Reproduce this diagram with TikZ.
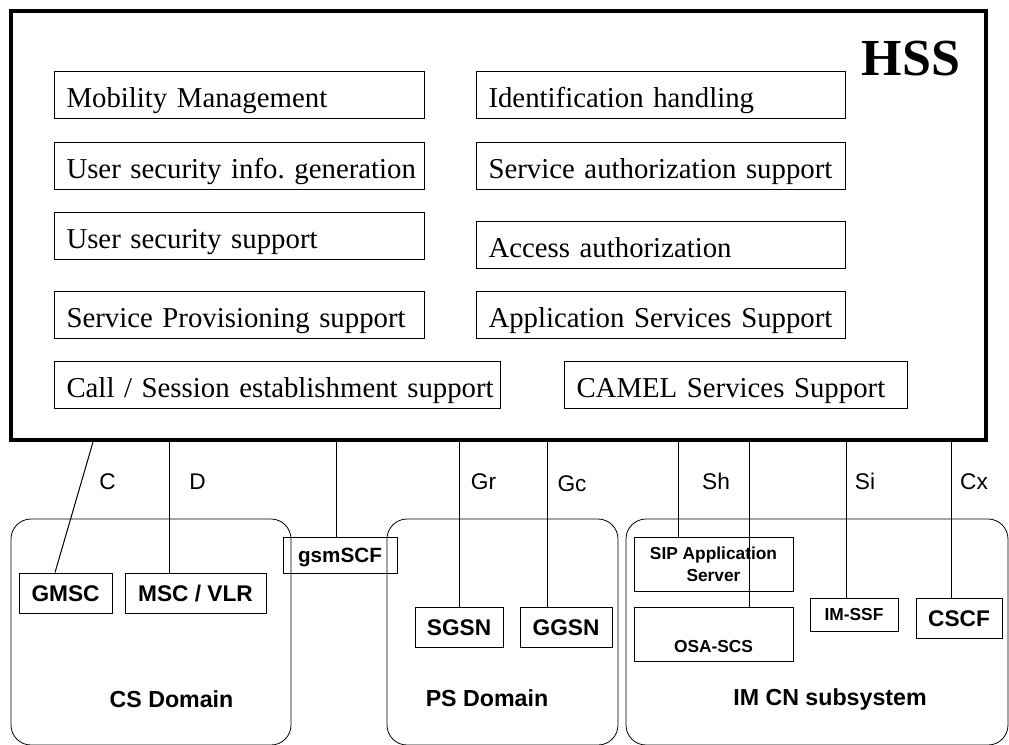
\documentclass[tikz,border=0pt]{standalone}
\usepackage{fontspec}
\newfontfamily\tnr{Liberation Serif}
\newfontfamily\ars{Liberation Sans}
\frenchspacing
\begin{document}
\begin{tikzpicture}[x=0.75pt,y=-0.75pt,
  fbox/.style={draw, line width=0.75pt, anchor=north west, inner xsep=9pt, inner ysep=0pt,
    minimum height=35.25pt, text height=18.75pt, text depth=0pt, align=left, text width=#1,
    font=\tnr\fontsize{21.6}{26}\selectfont},
  ebox/.style={draw, line width=0.75pt, inner sep=0pt,
    font=\ars\bfseries\fontsize{17}{20}\selectfont, text height=12.2pt, text depth=0pt},
  sbox/.style={draw, line width=0.75pt, inner sep=0pt, align=center,
    font=\ars\bfseries\fontsize{13}{16.5}\selectfont},
  domainbox/.style={draw, line width=0.6pt, rounded corners=15pt, inner sep=0pt},
  dlabel/.style={anchor=base, font=\ars\bfseries\fontsize{17.4}{20}\selectfont},
  iflabel/.style={anchor=base, font=\ars\fontsize{17}{20}\selectfont},
  conn/.style={line width=0.75pt}
]
\useasboundingbox (0,0) rectangle (1009,744);

% x positions of connectors
\coordinate (xC1) at (93,0);
\coordinate (xC2) at (55,0);
\coordinate (xD) at (169,0);
\coordinate (xG) at (336,0);
\coordinate (xGr) at (459,0);
\coordinate (xGc) at (547,0);
\coordinate (xShA) at (678,0);
\coordinate (xShB) at (749,0);
\coordinate (xSi) at (846,0);
\coordinate (xCx) at (951,0);

% HSS
\node[draw, line width=3pt, inner sep=0pt, minimum width=731.25pt, minimum height=321.75pt]
  (hss) at (498.5,225.5) {};
\node[anchor=base west, font=\tnr\bfseries\fontsize{39}{44}\selectfont] (hsst) at (857,75) {HSS};

\node[fbox=259.5pt] (mm) at (54,71) {\mbox{Mobility Management}};
\node[fbox=259.5pt] (usig) at (54,142) {\mbox{User security info. generation}};
\node[fbox=259.5pt] (uss) at (54,212) {\mbox{User security support}};
\node[fbox=259.5pt] (sps) at (54,291) {\mbox{Service Provisioning support}};
\node[fbox=316.5pt] (cses) at (54,361) {\mbox{Call / Session establishment support}};

\node[fbox=258.75pt] (idh) at (476,71) {\mbox{Identification handling}};
\node[fbox=258.75pt] (sas) at (476,142) {\mbox{Service authorization support}};
\node[fbox=258.75pt] (aa) at (476,221) {\mbox{Access authorization}};
\node[fbox=258.75pt] (ass) at (476,291) {\mbox{Application Services Support}};
\node[fbox=239.25pt] (camel) at (564,361) {\mbox{CAMEL Services Support}};

% domains
\node[domainbox, minimum width=210pt, minimum height=169.5pt] (cs) at (151,632) {};
\node[domainbox, minimum width=173.25pt, minimum height=169.5pt] (ps) at (502.5,632) {};
\node[domainbox, minimum width=286.5pt, minimum height=169.5pt] (ims) at (817,632) {};
\node[dlabel] (cst) at (171.5,707) {CS Domain};
\node[dlabel] (pst) at (487,706) {PS Domain};
\node[dlabel] (imst) at (830,705) {IM CN subsystem};

% elements
\node[ebox, minimum width=69.75pt, minimum height=30pt] (gmsc) at (65.5,593) {GMSC};
\node[ebox, minimum width=105.75pt, minimum height=30pt] (msc) at (195.5,593) {MSC / VLR};
\node[ebox, minimum width=85.5pt, minimum height=27pt, font=\ars\bfseries\fontsize{15.5}{18}\selectfont, text height=11.1pt]
  (gsmscf) at (340,555) {gsmSCF};
\node[ebox, minimum width=66pt, minimum height=30pt] (sgsn) at (459,627) {SGSN};
\node[ebox, minimum width=69pt, minimum height=30pt] (ggsn) at (566,627) {GGSN};
\node[sbox, minimum width=119.25pt, minimum height=40.5pt] (sipas) at (713.5,564) {SIP Application\\Server};
\node[sbox, minimum width=119.25pt, minimum height=40.5pt, text height=27pt, text depth=0pt] (osa) at (713.5,634) {OSA-SCS};
\node[sbox, minimum width=66pt, minimum height=24.75pt, text height=9.3pt, text depth=0pt] (imssf) at (854,614.5) {IM-SSF};
\node[ebox, minimum width=64.5pt, minimum height=30pt] (cscf) at (959,618) {CSCF};

% connectors
\draw[conn] (hss.south -| xC1) -- (gmsc.north -| xC2);
\draw[conn] (hss.south -| xD) -- (msc.north -| xD);
\draw[conn] (hss.south -| xG) -- (gsmscf.north -| xG);
\draw[conn] (hss.south -| xGr) -- (sgsn.north -| xGr);
\draw[conn] (hss.south -| xGc) -- (ggsn.north -| xGc);
\draw[conn] (hss.south -| xShA) -- (sipas.north -| xShA);
\draw[conn] (hss.south -| xShB) -- (osa.north -| xShB);
\draw[conn] (hss.south -| xSi) -- (imssf.north -| xSi);
\draw[conn] (hss.south -| xCx) -- (cscf.north -| xCx);

% interface labels
\node[iflabel] (lC) at (107.5,489) {C};
\node[iflabel] (lD) at (197.5,489) {D};
\node[iflabel] (lGr) at (483.5,489) {Gr};
\node[iflabel] (lGc) at (572,491) {Gc};
\node[iflabel] (lSh) at (716,489) {Sh};
\node[iflabel] (lSi) at (865,489) {Si};
\node[iflabel] (lCx) at (974,489) {Cx};
\end{tikzpicture}
\end{document}
